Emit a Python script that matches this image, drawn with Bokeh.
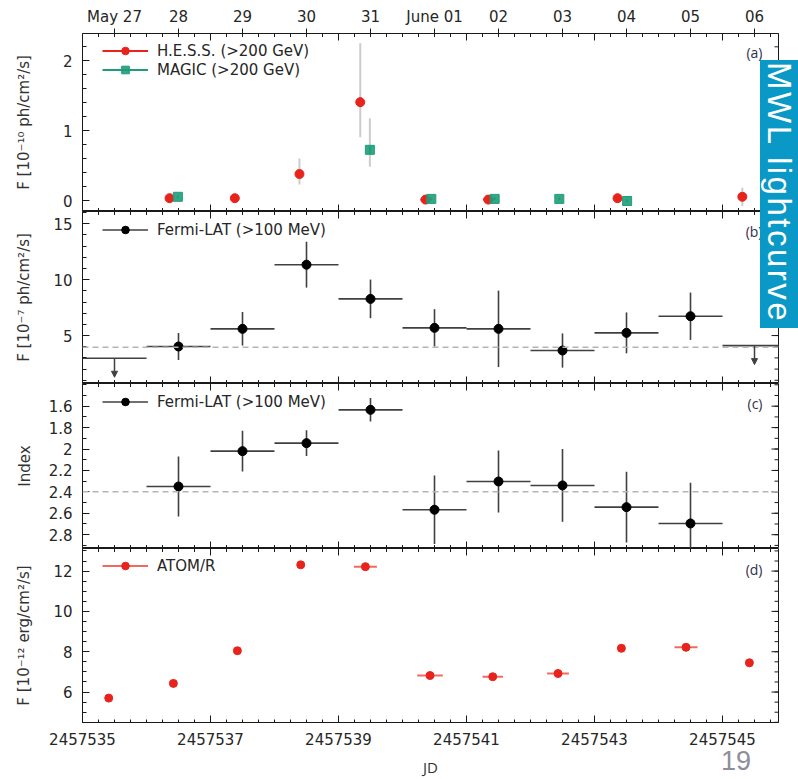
import numpy as np
from bokeh.plotting import figure
from bokeh.models import (Range1d, LinearAxis, FixedTicker, BasicTickFormatter, ColumnDataSource,
                          Span, Label, Arrow, NormalHead, Legend, LegendItem, Div)
from bokeh.layouts import column
from bokeh.embed import file_html
from bokeh.resources import INLINE

# ---------------- data ----------------
date_ticks = [2457535.5, 2457536.5, 2457537.5, 2457538.5, 2457539.5, 2457540.5,
              2457541.5, 2457542.5, 2457543.5, 2457544.5, 2457545.5]
date_labels = ["May 27", "28", "29", "30", "31", "June 01", "02", "03", "04", "05", "06"]
jd_ticks = [2457535, 2457537, 2457539, 2457541, 2457543, 2457545]

# (a) VHE
hess_jd = [2457536.36, 2457537.38, 2457538.39, 2457539.34, 2457540.36, 2457541.34, 2457543.36, 2457545.31]
hess_flux = [0.04, 0.04, 0.385, 1.41, 0.02, 0.02, 0.04, 0.06]
hess_stat = [0.02, 0.02, 0.03, 0.07, 0.02, 0.02, 0.02, 0.04]
hess_dt = [0.04, 0.04, 0.04, 0.06, 0.08, 0.08, 0.06, 0.03]
hess_sys_lo = [0.0, 0.0, 0.15, 0.50, 0.0, 0.0, 0.0, 0.13]
hess_sys_hi = [0.0, 0.0, 0.22, 0.84, 0.0, 0.0, 0.0, 0.13]

magic_jd = [2457536.49, 2457539.49, 2457540.45, 2457541.44, 2457542.45, 2457543.51]
magic_flux = [0.06, 0.73, 0.03, 0.03, 0.03, 0.0]
magic_stat = [0.02, 0.05, 0.02, 0.02, 0.02, 0.02]
magic_sys_lo = [0.0, 0.24, 0.0, 0.0, 0.0, 0.0]
magic_sys_hi = [0.0, 0.45, 0.0, 0.0, 0.0, 0.0]

# (b) Fermi flux
fermi_jd = [2457536.5, 2457537.5, 2457538.5, 2457539.5, 2457540.5, 2457541.5, 2457542.5, 2457543.5, 2457544.5]
fermi_flux = [4.02, 5.6, 11.34, 8.28, 5.69, 5.6, 3.66, 5.24, 6.73]
fermi_flux_err = [1.2, 1.5, 2.05, 1.73, 1.67, 3.42, 1.53, 1.83, 2.12]
fermi_ul_jd = [2457535.5, 2457545.5]
fermi_ul = [2.97, 4.1]
fermi_bin_half = 0.5
fermi_flux_mean = 3.96

# (c) Fermi index
fermi_index = [2.35, 2.02, 1.945, 1.634, 2.567, 2.303, 2.34, 2.543, 2.695]
fermi_index_err = [0.28, 0.19, 0.12, 0.11, 0.32, 0.29, 0.34, 0.33, 0.38]
fermi_index_mean = 2.4

# (d) ATOM
atom_jd = [2457535.41, 2457536.42, 2457537.42, 2457538.41, 2457539.42, 2457540.43,
           2457541.41, 2457542.43, 2457543.42, 2457544.43, 2457545.42]
atom_flux = [5.70, 6.43, 8.05, 12.31, 12.22, 6.82, 6.76, 6.92, 8.17, 8.22, 7.45]
atom_dt = [0.0, 0.0, 0.0, 0.0, 0.18, 0.2, 0.16, 0.17, 0.0, 0.18, 0.0]

# y ticks
a_ticks = [0, 1, 2]
b_ticks = [5, 10, 15]
c_ticks = [1.6, 1.8, 2.0, 2.2, 2.4, 2.6, 2.8]
c_tick_labels = ["1.6", "1.8", "2", "2.2", "2.4", "2.6", "2.8"]
d_ticks = [6, 8, 10, 12]

# ---------------- style ----------------
RED = "#e8231c"
GREEN = "#1f9d7a"
BLUE_BOX = "#0a98c6"
AX = "#1a1a1a"
TXT = "#262626"
W = 798

X0, X1 = 2457535.0, 2457545.875
xr = Range1d(X0, X1)
jd_minor = [float(v) for v in np.arange(X0, 2457546.0, 0.25) if v not in jd_ticks]


def make_fig(h, yr, top=0, bottom=0):
    p = figure(width=W, height=h, x_range=xr, y_range=yr, output_backend="svg",
               toolbar_location=None, title=None,
               min_border_left=82, min_border_right=20, min_border_top=top, min_border_bottom=bottom,
               x_axis_location=None, y_axis_location=None)
    p.outline_line_color = AX
    p.outline_line_width = 1
    p.xgrid.grid_line_color = None
    p.ygrid.grid_line_color = None
    p.background_fill_color = "white"
    p.border_fill_color = "white"
    return p


def left_axis(p, ticks, minor, label, lab_standoff, overrides=None):
    ax = LinearAxis(ticker=FixedTicker(ticks=ticks, minor_ticks=minor), axis_label=label)
    ax.major_tick_in = 7
    ax.major_tick_out = 0
    ax.minor_tick_in = 4
    ax.minor_tick_out = 0
    ax.axis_line_color = AX
    ax.major_tick_line_color = AX
    ax.minor_tick_line_color = AX
    ax.major_label_text_font = "DejaVu Sans"
    ax.major_label_text_font_size = "15px"
    ax.major_label_text_color = TXT
    ax.major_label_standoff = 10
    ax.axis_label_text_font = "DejaVu Sans"
    ax.axis_label_text_font_size = "15px"
    ax.axis_label_text_font_style = "normal"
    ax.axis_label_text_color = "#333333"
    ax.axis_label_standoff = lab_standoff
    if overrides:
        ax.major_label_overrides = overrides
    p.add_layout(ax, "left")
    # mirrored ticks on the right edge (drawn inward)
    p.scatter(x=[X1] * len(ticks), y=ticks, marker="dash", size=14, line_color=AX, line_width=1)
    p.scatter(x=[X1] * len(minor), y=minor, marker="dash", size=8, line_color=AX, line_width=1)


def edge_ticks(p, yvals):
    for yv in yvals:
        p.scatter(x=jd_ticks, y=[yv] * len(jd_ticks), marker="dash", angle=np.pi / 2,
                  size=14, line_color=AX, line_width=1)
        p.scatter(x=jd_minor, y=[yv] * len(jd_minor), marker="dash", angle=np.pi / 2,
                  size=7, line_color=AX, line_width=1)


def add_legend(p, items, loc):
    lg = Legend(items=items, location=loc, border_line_color=None, background_fill_alpha=0,
                label_text_font="DejaVu Sans", label_text_font_size="15px", label_text_color=TXT,
                glyph_width=46, glyph_height=19, label_height=19, label_standoff=9,
                spacing=0, padding=0, margin=0)
    p.add_layout(lg)


def panel_label(p, text, x, y):
    p.add_layout(Label(x=x, y=y, text=text, text_align="right", text_baseline="middle",
                       text_font="Open Sans", text_font_size="14px", text_color="#2f3048"))


def seg_source(x0, y0, x1, y1):
    return ColumnDataSource(dict(x0=list(x0), y0=list(y0), x1=list(x1), y1=list(y1)))


# ---------------- panel (a) ----------------
ya = Range1d(-0.15, 2.39)
pa = make_fig(211, ya, top=33)
left_axis(pa, a_ticks, [round(v, 2) for v in np.arange(-0.2, 2.41, 0.2)],
          "F [10\u207b\u00b9\u2070 ph/cm\u00b2/s]", 27)
top_ax = LinearAxis(ticker=FixedTicker(ticks=date_ticks, minor_ticks=[]),
                    major_label_overrides=dict(zip(date_ticks, date_labels)))
top_ax.major_tick_in = 0
top_ax.major_tick_out = 5
top_ax.minor_tick_in = 0
top_ax.minor_tick_out = 0
top_ax.axis_line_color = AX
top_ax.major_tick_line_color = AX
top_ax.major_label_text_font = "DejaVu Sans"
top_ax.major_label_text_font_size = "15px"
top_ax.major_label_text_color = TXT
top_ax.major_label_standoff = 3
pa.add_layout(top_ax, "above")
edge_ticks(pa, [ya.start, ya.end])

hj, hf = np.array(hess_jd), np.array(hess_flux)
mj, mf = np.array(magic_jd), np.array(magic_flux)
pa.segment("x0", "y0", "x1", "y1", source=seg_source(hj, hf - np.array(hess_sys_lo), hj, hf + np.array(hess_sys_hi)),
           line_color="#cccccc", line_width=2)
pa.segment("x0", "y0", "x1", "y1", source=seg_source(mj, mf - np.array(magic_sys_lo), mj, mf + np.array(magic_sys_hi)),
           line_color="#cccccc", line_width=2)
h_v = pa.segment("x0", "y0", "x1", "y1", source=seg_source(hj, hf - np.array(hess_stat), hj, hf + np.array(hess_stat)),
                 line_color=RED, line_width=2)
h_h = pa.segment("x0", "y0", "x1", "y1", source=seg_source(hj - np.array(hess_dt), hf, hj + np.array(hess_dt), hf),
                 line_color=RED, line_width=2)
m_v = pa.segment("x0", "y0", "x1", "y1", source=seg_source(mj, mf - np.array(magic_stat), mj, mf + np.array(magic_stat)),
                 line_color=GREEN, line_width=2)
h_s = pa.scatter(hess_jd, hess_flux, marker="circle", size=9, fill_color=RED, line_color=RED)
m_s = pa.scatter(magic_jd, magic_flux, marker="square", size=9, fill_color=GREEN, line_color=GREEN,
                 fill_alpha=0.9)
add_legend(pa, [LegendItem(label="H.E.S.S. (>200 GeV)", renderers=[h_h, h_s]),
                LegendItem(label="MAGIC (>200 GeV)", renderers=[m_v, m_s])], (20, 132))
panel_label(pa, "(a)", 2457545.625, 2.119)

# ---------------- panel (b) ----------------
yb = Range1d(0.71, 16.1)
pb = make_fig(172, yb)
left_axis(pb, b_ticks, [float(v) for v in np.arange(1, 16.1, 1)], "F [10\u207b\u2077 ph/cm\u00b2/s]", 17)
edge_ticks(pb, [yb.start, yb.end])
pb.add_layout(Span(location=fermi_flux_mean, dimension="width", line_color="#b4b4b4",
                   line_dash="6 4", line_width=1.5))
fj, ff, fe = np.array(fermi_jd), np.array(fermi_flux), np.array(fermi_flux_err)
b_h = pb.segment("x0", "y0", "x1", "y1", source=seg_source(fj - fermi_bin_half, ff, fj + fermi_bin_half, ff),
                 line_color="#404040", line_width=1.6)
pb.segment("x0", "y0", "x1", "y1", source=seg_source(fj, ff - fe, fj, ff + fe),
           line_color="#404040", line_width=1.6)
uj, uf = np.array(fermi_ul_jd), np.array(fermi_ul)
pb.segment("x0", "y0", "x1", "y1", source=seg_source(uj - fermi_bin_half, uf, uj + fermi_bin_half, uf),
           line_color="#404040", line_width=1.6)
pb.add_layout(Arrow(end=NormalHead(size=6, fill_color="#404040", line_color="#404040"),
                    x_start="x", y_start="y0", x_end="x", y_end="y1",
                    source=ColumnDataSource(dict(x=list(uj), y0=list(uf), y1=list(uf - 1.7))),
                    line_color="#404040", line_width=1.5))
b_s = pb.scatter(fermi_jd, fermi_flux, marker="circle", size=9, fill_color="black", line_color="black")
add_legend(pb, [LegendItem(label="Fermi-LAT (>100 MeV)", renderers=[b_h, b_s])], (20, 144))
panel_label(pb, "(b)", 2457545.625, 14.29)

# ---------------- panel (c) ----------------
yc = Range1d(2.929, 1.388)
pc = make_fig(165, yc)
left_axis(pc, c_ticks, [round(v, 2) for v in np.arange(1.4, 2.95, 0.1)], "Index", 12,
          overrides=dict(zip(c_ticks, c_tick_labels)))
edge_ticks(pc, [yc.start, yc.end])
pc.add_layout(Span(location=fermi_index_mean, dimension="width", line_color="#b4b4b4",
                   line_dash="6 4", line_width=1.5))
fi, fie = np.array(fermi_index), np.array(fermi_index_err)
c_h = pc.segment("x0", "y0", "x1", "y1", source=seg_source(fj - fermi_bin_half, fi, fj + fermi_bin_half, fi),
                 line_color="#404040", line_width=1.6)
pc.segment("x0", "y0", "x1", "y1", source=seg_source(fj, fi - fie, fj, fi + fie),
           line_color="#404040", line_width=1.6)
c_s = pc.scatter(fermi_jd, fermi_index, marker="circle", size=9, fill_color="black", line_color="black")
add_legend(pc, [LegendItem(label="Fermi-LAT (>100 MeV)", renderers=[c_h, c_s])], (20, 137))
panel_label(pc, "(c)", 2457545.625, 1.575)

# ---------------- panel (d) ----------------
yd = Range1d(4.49, 13.12)
pd = make_fig(231, yd, bottom=56)
left_axis(pd, d_ticks, [float(v) for v in np.arange(4.5, 13.1, 0.5)], "F [10\u207b\u00b9\u00b2 erg/cm\u00b2/s]", 17)
edge_ticks(pd, [yd.end])
bot = LinearAxis(ticker=FixedTicker(ticks=jd_ticks, minor_ticks=jd_minor),
                 formatter=BasicTickFormatter(use_scientific=False), axis_label="JD")
bot.major_tick_in = 7
bot.major_tick_out = 0
bot.minor_tick_in = 3
bot.minor_tick_out = 0
bot.axis_line_color = AX
bot.major_tick_line_color = AX
bot.minor_tick_line_color = AX
bot.major_label_text_font = "DejaVu Sans"
bot.major_label_text_font_size = "15px"
bot.major_label_text_color = TXT
bot.major_label_standoff = 10
bot.axis_label_text_font = "Open Sans"
bot.axis_label_text_font_size = "15px"
bot.axis_label_text_font_style = "normal"
bot.axis_label_text_color = "#333333"
bot.axis_label_standoff = 9
pd.add_layout(bot, "below")
aj, af, adt = np.array(atom_jd), np.array(atom_flux), np.array(atom_dt)
d_h = pd.segment("x0", "y0", "x1", "y1", source=seg_source(aj - adt, af, aj + adt, af),
                 line_color="#f06a62", line_width=2)
d_s = pd.scatter(atom_jd, atom_flux, marker="circle", size=8, fill_color=RED, line_color=RED)
add_legend(pd, [LegendItem(label="ATOM/R", renderers=[d_h, d_s])], (20, 147))
panel_label(pd, "(d)", 2457545.625, 12.08)

# ---------------- slide overlays (vertical title box, page number) ----------------
box = Div(
    text=('<div style="writing-mode: vertical-rl; font-family: \'Liberation Sans\'; font-size: 33px; '
          'letter-spacing: 2.5px; line-height: 38px; color: white; background: %s; width: 38px; '
          'height: 268px; box-sizing: border-box; padding-top: 2px; white-space: nowrap;">'
          'MWL lightcurve</div>' % BLUE_BOX),
    width=38, height=268, margin=0,
    styles={"position": "absolute", "left": "760px", "top": "60px", "z-index": "10",
            "padding": "0px"},
)
page_no = Div(
    text=('<div style="font-family: \'Liberation Sans\'; font-size: 27px; line-height: 31px; '
          'color: #8c8f99; white-space: nowrap;">19</div>'),
    width=40, height=32, margin=0,
    styles={"position": "absolute", "left": "721px", "top": "746px", "z-index": "10",
            "padding": "0px"},
)

layout = column(pa, pb, pc, pd, box, page_no, spacing=0)
open("out.html", "w").write(file_html(layout, INLINE))
